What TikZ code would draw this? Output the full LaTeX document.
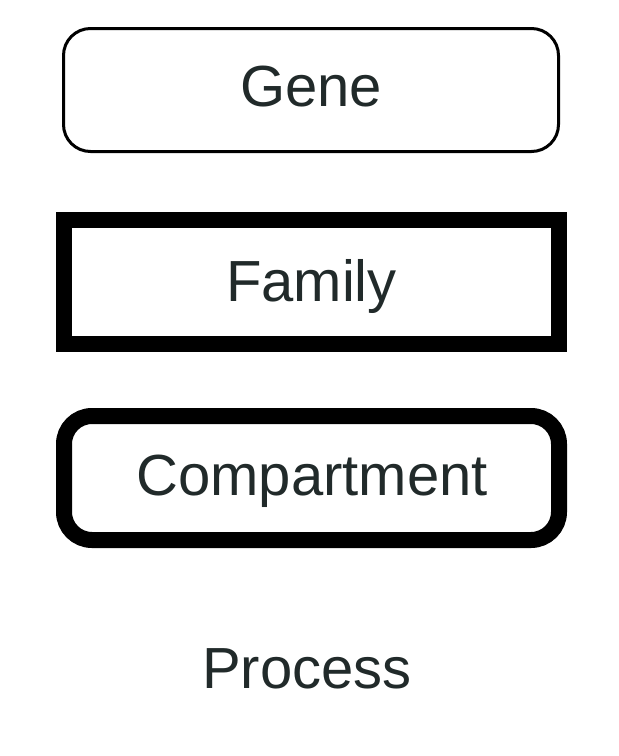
\documentclass[tikz,border=0pt]{standalone}
\usepackage{fontspec}
\setmainfont{Liberation Sans}
\definecolor{txt}{RGB}{33,42,42}
\begin{document}
\begin{tikzpicture}[x=1pt,y=-1pt,
  lbl/.style={text=txt,font=\fontsize{58}{61}\selectfont,text height=41.5pt,text depth=0pt,inner sep=0pt},
  genebox/.style={draw=black,line width=3pt,rounded corners=27pt,minimum width=495pt,minimum height=123pt},
  familybox/.style={draw=black,line width=16pt,minimum width=495pt,minimum height=124pt},
  compbox/.style={draw=black,line width=16pt,rounded corners=28pt,minimum width=495pt,minimum height=124pt}]
\useasboundingbox (0,0) rectangle (619,756);
\node[genebox] (geneb) at (311,90) {};
\node[lbl] (gene) at (311,86) {Gene};
\node[familybox] (familyb) at (311.5,282) {};
\node[lbl] (family) at (311.5,281) {Family};
\node[compbox] (compb) at (311.5,478) {};
\node[lbl] (comp) at (312,475) {Compartment};
\node[lbl] (process) at (307,668) {Process};
\end{tikzpicture}
\end{document}
